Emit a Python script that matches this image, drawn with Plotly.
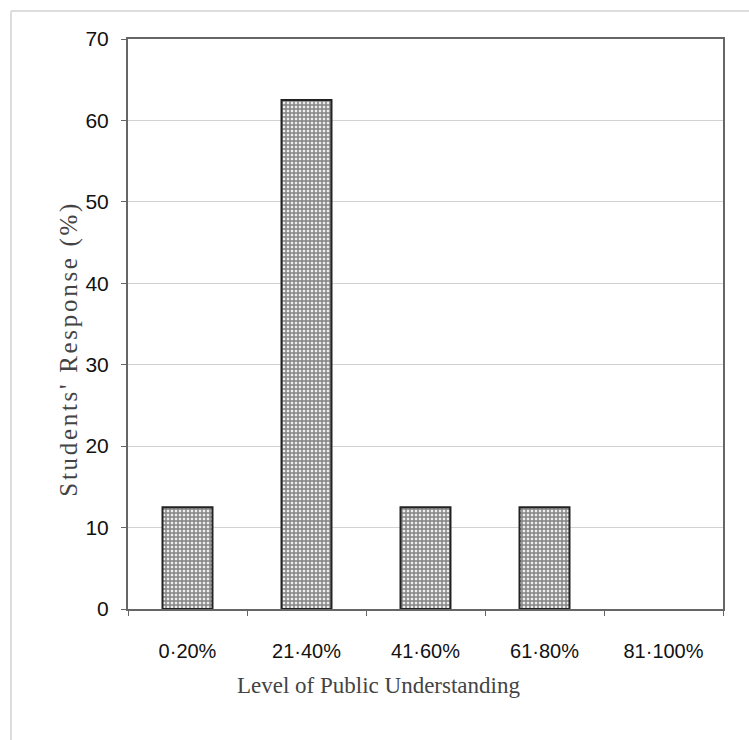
import plotly.graph_objects as go

# Survey results: share of students choosing each level of public understanding
categories = ["0-20%", "21-40%", "41-60%", "61-80%", "81-100%"]
tick_text = ["0\u00b720%", "21\u00b740%", "41\u00b760%", "61\u00b780%", "81\u00b7100%"]
responses = [12.5, 62.5, 12.5, 12.5, 0]
y_ticks = [0, 10, 20, 30, 40, 50, 60, 70]

W, H = 749, 740
L, R, T, B = 128, 26, 39, 131
plot_w = W - L - R
plot_h = H - T - B


def px_x(x):
    return (x - L) / plot_w


def px_y(y):
    return (H - B - y) / plot_h


fig = go.Figure(
    go.Bar(
        x=categories,
        y=responses,
        width=0.42,
        marker=dict(
            color="white",
            line=dict(color="#222222", width=[2 if v > 0 else 0 for v in responses]),
            pattern=dict(shape="+", size=4, solidity=0.62,
                         fgcolor="#1a1a1a", bgcolor="#eeeeee"),
        ),
        hoverinfo="skip",
    )
)

fig.update_layout(
    width=W,
    height=H,
    margin=dict(l=L, r=R, t=T, b=B),
    paper_bgcolor="white",
    plot_bgcolor="white",
    showlegend=False,
    xaxis=dict(
        tickmode="array",
        tickvals=categories,
        ticktext=tick_text,
        tickson="boundaries",
        ticks="outside",
        ticklen=5,
        tickcolor="#666666",
        ticklabelstandoff=23,
        tickfont=dict(family="Liberation Sans, Arial", size=20, color="#111111"),
        showline=True,
        linecolor="#666666",
        linewidth=2,
        mirror=True,
        showgrid=False,
    ),
    yaxis=dict(
        range=[0, 70],
        tickmode="array",
        tickvals=y_ticks,
        ticks="outside",
        ticklen=5,
        tickcolor="#666666",
        ticklabelstandoff=8,
        tickfont=dict(family="Liberation Sans, Arial", size=21, color="#111111"),
        showline=True,
        linecolor="#666666",
        linewidth=2,
        mirror=True,
        showgrid=True,
        gridcolor="#d2d2d2",
        gridwidth=1,
        zeroline=False,
    ),
)

# Axis titles
fig.add_annotation(
    text="Level of Public Understanding", xref="paper", yref="paper",
    x=px_x(378), y=px_y(700), showarrow=False,
    font=dict(family="Liberation Serif, Times New Roman", size=23, color="#444444"),
)
fig.add_annotation(
    text="Students' Response (%)", xref="paper", yref="paper",
    x=px_x(53), y=px_y(349), showarrow=False, textangle=-90,
    font=dict(family="Liberation Serif, Times New Roman", size=25, color="#444444"),
)

# Light frame around the top and left of the figure
fig.add_shape(type="line", xref="paper", yref="paper",
              x0=px_x(11), x1=px_x(W), y0=px_y(11), y1=px_y(11),
              line=dict(color="#dddddd", width=2))
fig.add_shape(type="line", xref="paper", yref="paper",
              x0=px_x(11), x1=px_x(11), y0=px_y(11), y1=px_y(H),
              line=dict(color="#dddddd", width=2))

# Spread out the letters of the vertical axis title
post = """
var gd = document.getElementById('{plot_id}');
gd.querySelectorAll('.annotation-text').forEach(function (t) {
  if (t.textContent.indexOf('Students') === 0) {
    t.style.letterSpacing = '2.7px';
  }
});
"""

fig.write_html("out.html", post_script=post)
